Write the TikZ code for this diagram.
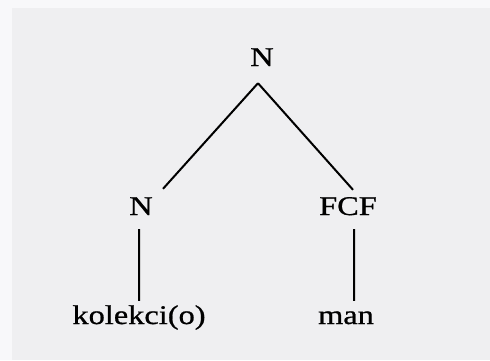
\documentclass[tikz,border=0pt]{standalone}
\usepackage{fontspec}
\setmainfont{Liberation Serif}[FakeStretch=1.2, FakeBold=0.8]
\usepackage{tikz}

\definecolor{paper}{RGB}{239,239,241}
\definecolor{paperedge}{RGB}{248,248,250}

\begin{document}
\begin{tikzpicture}[x = 1bp, y = -1bp,
    every node/.style = { font = \fontsize{27bp}{32bp}\selectfont, anchor = base },
    cat/.style = { inner sep = 14bp, text height = 17bp, text depth = 0bp },
    leaf/.style = { inner sep = 4bp, text height = 19bp, text depth = 5bp },
    branch/.style = { line width = 2bp }]
    % background of the scan
    \fill[paper] (0, 0) rectangle (490, 360);
    \fill[paperedge] (0, 0) rectangle (490, 8);
    \fill[paperedge] (0, 0) rectangle (12, 360);
    \useasboundingbox (0, 0) rectangle (490, 360);

    \node[cat] (root) at (262, 66) { N };
    \node[cat] (nleft) at (141, 215) { N };
    \node[cat] (fcf) at (348, 215) { FCF };
    \node[leaf] (kolekci) at (139, 324) { kolekci(o) };
    \node[leaf] (man) at (346, 324) { man };

    \draw[branch] ([xshift = -4bp, yshift = -3bp]root.south) -- ([xshift = 22bp, yshift = -5bp]nleft.north);
    \draw[branch] ([xshift = -4bp, yshift = -3bp]root.south) -- ([xshift = 5bp, yshift = -6bp]fcf.north);
    \draw[branch] ([xshift = -2bp]nleft.south) -- ([xshift = 0bp]kolekci.north);
    \draw[branch] ([xshift = 6bp]fcf.south) -- ([xshift = 8bp]man.north);
  \end{tikzpicture}
\end{document}
